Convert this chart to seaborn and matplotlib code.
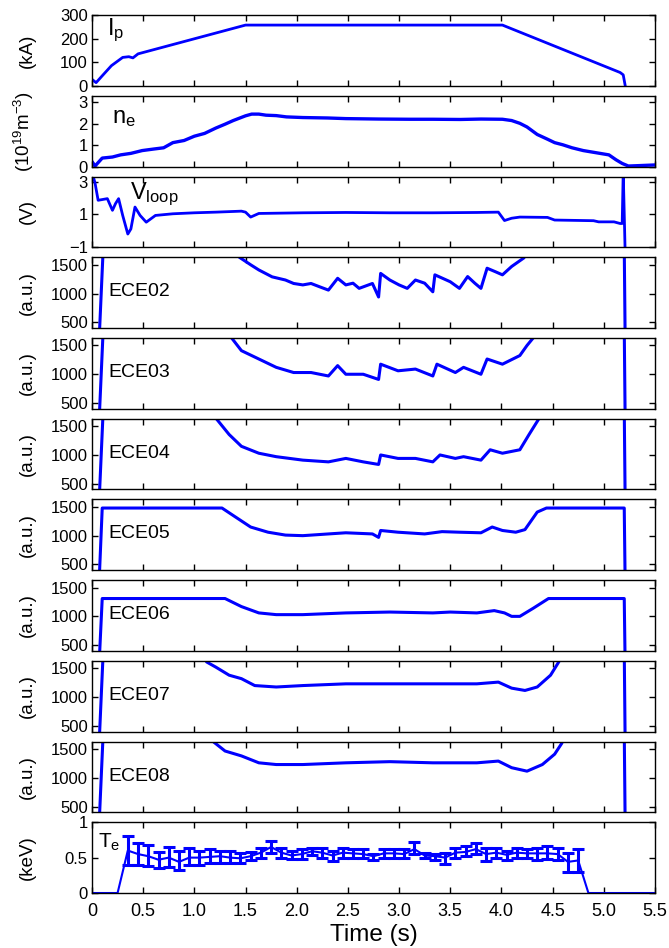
import pandas as pd
import seaborn as sns
import matplotlib.pyplot as plt

# ---- values (time in s) ----
ip_t = [0.0, 0.04, 0.10, 0.19, 0.30, 0.36, 0.40, 0.45, 0.51, 1.50, 4.01, 5.16, 5.19, 5.21]
ip_v = [28, 14, 43, 86, 121, 124, 119, 136, 143, 258, 258, 57, 47, 0]

ne_t = [0.0, 0.03, 0.10, 0.20, 0.28, 0.38, 0.49, 0.60, 0.70, 0.79, 0.90, 1.00, 1.10,
        1.21, 1.30, 1.38, 1.50, 1.56, 1.63, 1.70, 1.80, 1.90, 2.06, 2.30, 2.48, 2.80,
        3.10, 3.33, 3.60, 3.80, 4.01, 4.10, 4.18, 4.25, 4.35, 4.45, 4.52, 4.60, 4.69,
        4.80, 4.95, 5.05, 5.12, 5.18, 5.24, 5.35, 5.50]
ne_v = [0.24, 0.03, 0.40, 0.45, 0.55, 0.62, 0.75, 0.82, 0.88, 1.12, 1.22, 1.42, 1.55,
        1.80, 1.98, 2.15, 2.37, 2.45, 2.45, 2.40, 2.38, 2.32, 2.29, 2.27, 2.24, 2.22,
        2.21, 2.21, 2.20, 2.22, 2.21, 2.15, 2.02, 1.85, 1.50, 1.28, 1.12, 1.02, 0.88,
        0.75, 0.63, 0.55, 0.32, 0.15, 0.03, 0.05, 0.08]

vl_t = [0.0, 0.03, 0.06, 0.15, 0.20, 0.23, 0.26, 0.30, 0.35, 0.38, 0.42, 0.47, 0.53,
        0.62, 0.79, 1.00, 1.21, 1.46, 1.50, 1.55, 1.63, 2.06, 2.48, 2.91, 3.33, 3.76,
        3.97, 4.03, 4.10, 4.18, 4.45, 4.52, 4.90, 4.95, 5.10, 5.16, 5.18, 5.19, 5.21]
vl_v = [3.6, 2.9, 1.86, 1.96, 1.25, 1.66, 1.96, 0.94, -0.19, 0.12, 1.45, 0.94, 0.53,
        0.94, 1.04, 1.10, 1.14, 1.20, 1.14, 0.84, 1.06, 1.10, 1.12, 1.10, 1.10, 1.12,
        1.14, 0.63, 0.77, 0.84, 0.82, 0.66, 0.62, 0.55, 0.55, 0.45, 0.45, 3.6, -1.6]

ece02_t = [0.065, 0.11, 1.40, 1.44, 1.55, 1.63, 1.76, 1.89, 1.97, 2.06, 2.14, 2.22, 2.31,
           2.40, 2.48, 2.55, 2.61, 2.74, 2.80, 2.82, 2.91, 3.00, 3.08, 3.16, 3.25, 3.33,
           3.35, 3.50, 3.59, 3.67, 3.74, 3.80, 3.86, 3.94, 4.01, 4.10, 4.22, 4.26, 5.20,
           5.21]
ece02_v = [0, 1800, 1800, 1630, 1500, 1410, 1290, 1235, 1175, 1150, 1175, 1120, 1060,
           1265, 1150, 1180, 1090, 1175, 940, 1350, 1235, 1150, 1090, 1235, 1180, 1030,
           1325, 1205, 1090, 1295, 1180, 1090, 1440, 1380, 1325, 1470, 1620, 1800, 1800,
           0]

ece03_t = [0.065, 0.11, 1.33, 1.36, 1.46, 1.63, 1.80, 1.97, 2.14, 2.31, 2.40, 2.48, 2.65,
           2.80, 2.82, 2.99, 3.16, 3.33, 3.37, 3.55, 3.63, 3.80, 3.86, 4.01, 4.18, 4.25,
           4.31, 4.35, 5.20, 5.21]
ece03_v = [0, 1800, 1800, 1640, 1410, 1265, 1120, 1030, 1030, 970, 1150, 1000, 1000,
           910, 1175, 1060, 1090, 970, 1175, 1030, 1120, 1000, 1265, 1175, 1325, 1500,
           1630, 1800, 1800, 0]

ece04_t = [0.065, 0.11, 1.18, 1.21, 1.34, 1.46, 1.63, 1.80, 2.06, 2.31, 2.48, 2.65, 2.80,
           2.82, 2.99, 3.16, 3.33, 3.40, 3.55, 3.63, 3.80, 3.89, 4.01, 4.18, 4.27, 4.37,
           4.40, 5.20, 5.21]
ece04_v = [0, 1800, 1800, 1640, 1355, 1150, 1030, 970, 910, 880, 940, 880, 835,
           1000, 940, 940, 880, 1000, 940, 970, 910, 1090, 1030, 1090, 1355, 1640,
           1800, 1800, 0]

ece05_t = [0.065, 0.10, 1.27, 1.38, 1.55, 1.72, 1.89, 2.06, 2.31, 2.48, 2.74, 2.80, 2.82,
           2.99, 3.25, 3.42, 3.59, 3.80, 3.91, 4.01, 4.14, 4.23, 4.35, 4.44, 5.20, 5.21]
ece05_v = [0, 1480, 1480, 1350, 1150, 1060, 1010, 1000, 1030, 1050, 1030, 970, 1090,
           1060, 1030, 1070, 1060, 1050, 1150, 1090, 1060, 1105, 1410, 1480, 1480, 0]

ece06_t = [0.065, 0.10, 1.30, 1.46, 1.63, 1.80, 2.06, 2.48, 2.91, 3.33, 3.50, 3.76, 3.93,
           4.03, 4.10, 4.18, 4.31, 4.46, 5.20, 5.21]
ece06_v = [0, 1310, 1310, 1170, 1060, 1030, 1030, 1060, 1075, 1060, 1075, 1060, 1100,
           1060, 1000, 1000, 1140, 1310, 1310, 0]

ece07_t = [0.065, 0.11, 1.09, 1.12, 1.21, 1.34, 1.46, 1.59, 1.80, 2.06, 2.48, 2.91, 3.33,
           3.76, 3.97, 4.10, 4.23, 4.35, 4.48, 4.56, 4.60, 5.20, 5.21]
ece07_v = [0, 1800, 1800, 1610, 1520, 1380, 1320, 1200, 1175, 1200, 1230, 1230, 1230,
           1230, 1260, 1155, 1115, 1175, 1380, 1610, 1800, 1800, 0]

ece08_t = [0.065, 0.11, 1.16, 1.19, 1.30, 1.46, 1.63, 1.80, 2.06, 2.48, 2.91, 3.33, 3.76,
           3.97, 4.10, 4.25, 4.40, 4.52, 4.59, 4.62, 5.20, 5.21]
ece08_v = [0, 1800, 1800, 1620, 1465, 1380, 1260, 1230, 1230, 1260, 1280, 1260, 1260,
           1290, 1175, 1115, 1230, 1410, 1600, 1800, 1800, 0]

te_t = [0.35, 0.45, 0.55, 0.65, 0.75, 0.85, 0.95, 1.05, 1.15, 1.25, 1.35, 1.45, 1.55,
        1.65, 1.75, 1.85, 1.95, 2.05, 2.15, 2.25, 2.35, 2.45, 2.55, 2.65, 2.75, 2.85,
        2.95, 3.05, 3.15, 3.25, 3.35, 3.45, 3.55, 3.65, 3.75, 3.85, 3.95, 4.05, 4.15,
        4.25, 4.35, 4.45, 4.55, 4.65, 4.75]
te_mean = [0.60, 0.55, 0.52, 0.47, 0.50, 0.44, 0.50, 0.50, 0.51, 0.52, 0.50, 0.49, 0.52,
           0.57, 0.65, 0.57, 0.53, 0.55, 0.59, 0.57, 0.53, 0.57, 0.56, 0.55, 0.52, 0.56,
           0.56, 0.55, 0.62, 0.53, 0.52, 0.50, 0.57, 0.58, 0.62, 0.55, 0.57, 0.54, 0.57,
           0.56, 0.56, 0.56, 0.55, 0.44, 0.46]
te_lo = [0.40, 0.40, 0.38, 0.35, 0.37, 0.33, 0.40, 0.40, 0.42, 0.43, 0.42, 0.43, 0.47,
         0.50, 0.57, 0.50, 0.48, 0.48, 0.53, 0.50, 0.45, 0.50, 0.50, 0.50, 0.47, 0.50,
         0.50, 0.49, 0.55, 0.50, 0.47, 0.41, 0.50, 0.52, 0.55, 0.45, 0.50, 0.47, 0.50,
         0.50, 0.47, 0.48, 0.47, 0.30, 0.30]
te_hi = [0.80, 0.70, 0.68, 0.58, 0.65, 0.60, 0.63, 0.60, 0.62, 0.60, 0.60, 0.57, 0.58,
         0.64, 0.73, 0.64, 0.60, 0.62, 0.64, 0.63, 0.60, 0.63, 0.62, 0.62, 0.55, 0.62,
         0.62, 0.62, 0.72, 0.57, 0.55, 0.56, 0.64, 0.66, 0.70, 0.63, 0.64, 0.60, 0.64,
         0.62, 0.64, 0.66, 0.64, 0.57, 0.62]
te_edge_t = [0.0, 0.25, 4.85, 5.5]
te_edge_v = [0, 0, 0, 0]

xticks = [0, 0.5, 1.0, 1.5, 2.0, 2.5, 3.0, 3.5, 4.0, 4.5, 5.0, 5.5]
xticklabels = ['0', '0.5', '1.0', '1.5', '2.0', '2.5', '3.0', '3.5', '4.0', '4.5', '5.0', '5.5']

# ---- style ----
sns.set_style("ticks")
plt.rcParams['font.family'] = ['Liberation Sans', 'DejaVu Sans']
plt.rcParams['mathtext.fontset'] = 'custom'
plt.rcParams['mathtext.rm'] = 'Liberation Sans'
plt.rcParams['mathtext.it'] = 'Liberation Sans'
plt.rcParams['text.color'] = 'black'
plt.rcParams['axes.labelcolor'] = 'black'

BLUE = '#0000ff'

fig, axes = plt.subplots(11, 1, figsize=(6.69, 9.48), dpi=100, sharex=True)
fig.subplots_adjust(left=0.1375, right=0.979, top=0.984, bottom=0.058, hspace=0.14)


def trace(ax, t, v, lw=2.0):
    df = pd.DataFrame({'t': t, 'v': v})
    sns.lineplot(data=df, x='t', y='v', ax=ax, color=BLUE, lw=lw,
                 sort=False, estimator=None)


trace(axes[0], ip_t, ip_v)
axes[0].set_ylim(0, 300)
axes[0].set_yticks([0, 100, 200, 300])
axes[0].set_ylabel('(kA)')
axes[0].text(0.15, 292, r'I$_{\rm p}$', fontsize=17, va='top')

trace(axes[1], ne_t, ne_v, lw=2.4)
axes[1].set_ylim(0, 3.3)
axes[1].set_yticks([0, 1, 2, 3])
axes[1].set_ylabel(r'(10$^{19}$m$^{-3}$)')
axes[1].text(0.2, 2.8, r'n$_{\rm e}$', fontsize=17, va='top')

trace(axes[2], vl_t, vl_v)
axes[2].set_ylim(-1, 3.3)
axes[2].set_yticks([-1, 1, 3])
axes[2].set_ylabel('(V)')
axes[2].text(0.37, 3.05, r'V$_{\rm loop}$', fontsize=17, va='top')

ece_sets = [(ece02_t, ece02_v, 'ECE02'), (ece03_t, ece03_v, 'ECE03'),
            (ece04_t, ece04_v, 'ECE04'), (ece05_t, ece05_v, 'ECE05'),
            (ece06_t, ece06_v, 'ECE06'), (ece07_t, ece07_v, 'ECE07'),
            (ece08_t, ece08_v, 'ECE08')]
for ax, (t, v, name) in zip(axes[3:10], ece_sets):
    trace(ax, t, v, lw=2.2)
    ax.set_ylim(400, 1630)
    ax.set_yticks([500, 1000, 1500])
    ax.set_ylabel('(a.u.)')
    ax.text(0.16, 1030, name, fontsize=14, va='center')

# Te with error bars
ax = axes[10]
trace(ax, te_edge_t[:2] + te_t + te_edge_t[2:], te_edge_v[:2] + te_mean + te_edge_v[2:], lw=1.5)
err = [[m - lo for m, lo in zip(te_mean, te_lo)], [hi - m for m, hi in zip(te_mean, te_hi)]]
ax.errorbar(te_t, te_mean, yerr=err, fmt='none', ecolor=BLUE, elinewidth=2.2,
            capsize=4, capthick=2.2)
ax.set_ylim(0, 1)
ax.set_yticks([0, 0.5, 1])
ax.set_yticklabels(['0', '0.5', '1'])
ax.set_ylabel('(keV)')
ax.text(0.06, 0.86, r'T$_{\rm e}$', fontsize=15, va='top')

for ax in axes:
    ax.set_xlim(0, 5.5)
    ax.set_xticks(xticks)
    ax.tick_params(axis='both', direction='in', top=True, right=True, length=4,
                   width=1, color='black', labelcolor='black', labelsize=12)
    ax.tick_params(axis='y', pad=3)
    ax.tick_params(axis='x', pad=7)
    ax.yaxis.set_label_coords(-0.1, 0.5)
    ax.yaxis.label.set_size(13.5)
    ax.set_xlabel('')
    for s in ax.spines.values():
        s.set_linewidth(1)
        s.set_color('black')

axes[-1].set_xticklabels(xticklabels, fontsize=13)
axes[-1].set_xlabel('Time (s)', fontsize=17.5, labelpad=3)

fig.savefig('out.png', dpi=100)
